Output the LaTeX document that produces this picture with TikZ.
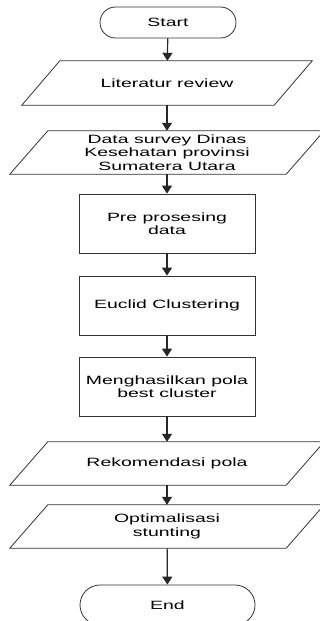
\documentclass[tikz,border=0pt]{standalone}
\usepackage{fontspec}
\setmainfont[FakeStretch=1.62]{Liberation Sans}
\usetikzlibrary{arrows.meta,shapes.misc}
\begin{document}
\begin{tikzpicture}[x=1pt,y=-1pt,
  font=\fontsize{12}{13.3}\selectfont,
  every node/.style={align=center, inner sep=0pt, text=black},
  procbox/.style={draw=black!80, line width=0.8pt, minimum width=176pt, minimum height=59pt},
  iobox/.style={minimum width=276pt, minimum height=43pt},
  ioline/.style={draw=black!80, line width=0.8pt},
  term/.style={rounded rectangle, draw=black!80, line width=0.8pt},
  flow/.style={draw=black!85, line width=1.2pt, -{Triangle[width=10pt,length=8pt]}}]
\useasboundingbox (0,0) rectangle (320,621);
\fill[white] (0,0) rectangle (320,621);

\node[term, minimum width=136pt, minimum height=31pt] (start) at (168,22.5) {Start};

\node[iobox, minimum width=252pt, minimum height=44pt] (lit) at (167,83) {Literatur review};
\draw[ioline] ([xshift=19pt]lit.north west) -- ([xshift=19pt]lit.north east) -- ([xshift=-19pt]lit.south east) -- ([xshift=-19pt]lit.south west) -- cycle;

\node[iobox] (data) at (167,152.5) {Data survey Dinas\\Kesehatan provinsi\\Sumatera Utara};
\draw[ioline] ([xshift=19pt]data.north west) -- ([xshift=19pt]data.north east) -- ([xshift=-19pt]data.south east) -- ([xshift=-19pt]data.south west) -- cycle;

\node[procbox] (pre) at (167,223.5) {Pre prosesing\\data};
\node[procbox] (euc) at (167,305.5) {Euclid Clustering};
\node[procbox] (pola) at (167,386.5) {Menghasilkan pola\\best cluster};

\node[iobox] (rek) at (167,463.5) {Rekomendasi pola};
\draw[ioline] ([xshift=19pt]rek.north west) -- ([xshift=19pt]rek.north east) -- ([xshift=-19pt]rek.south east) -- ([xshift=-19pt]rek.south west) -- cycle;

\node[iobox] (opt) at (167,526.5) {Optimalisasi\\stunting};
\draw[ioline] ([xshift=19pt]opt.north west) -- ([xshift=19pt]opt.north east) -- ([xshift=-19pt]opt.south east) -- ([xshift=-19pt]opt.south west) -- cycle;

\node[term, minimum width=175pt, minimum height=40pt] (end) at (167.5,605) {End};

\draw[flow] (start) -- (lit);
\draw[flow] (lit) -- (data);
\draw[flow] (data) -- (pre);
\draw[flow] (pre) -- (euc);
\draw[flow] (euc) -- (pola);
\draw[flow] (pola) -- (rek);
\draw[flow] (rek) -- (opt);
\draw[flow] (opt) -- (end);
\end{tikzpicture}
\end{document}
